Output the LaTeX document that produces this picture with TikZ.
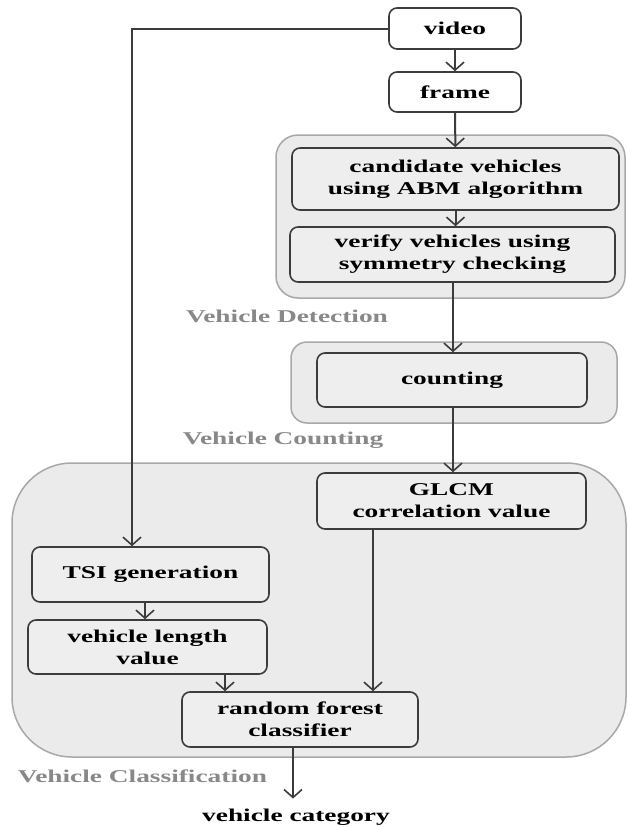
\documentclass[tikz,border=0pt]{standalone}
\usepackage{fontspec}
\newfontfamily\dfont{Liberation Serif}[FakeStretch=1.52]
\usetikzlibrary{arrows.meta}
\definecolor{boxline}{HTML}{3C3C3C}
\definecolor{boxfill}{HTML}{EEEEEE}
\definecolor{grpfill}{HTML}{EBEBEB}
\definecolor{grpline}{HTML}{A8A8A8}
\definecolor{lbl}{HTML}{888888}
\tikzset{
  stepbox/.style={draw=boxline, line width=1.6pt, rounded corners=8pt, fill=boxfill,
    inner sep=0pt, align=center, font=\dfont\bfseries\fontsize{18}{22}\selectfont},
  grp/.style={draw=grpline, line width=1.5pt, fill=grpfill, inner sep=0pt},
  grplabel/.style={text=lbl, inner sep=0pt, font=\dfont\bfseries\fontsize{18}{22}\selectfont},
  arr/.style={draw=boxline, line width=2pt, -{Straight Barb[length=8pt,width=18pt,line width=1.6pt]}}
}
\begin{document}
\begin{tikzpicture}[x=1pt,y=-1pt]
\useasboundingbox[fill=white] (0,0) rectangle (628,827);
% groups
\node[grp, rounded corners=22pt, minimum width=349pt, minimum height=163pt] (gdet) at (450.5,216.5) {};
\node[grp, rounded corners=16pt, minimum width=326pt, minimum height=81pt] (gcnt) at (454,382.5) {};
\node[grp, rounded corners=60pt, minimum width=614pt, minimum height=294pt] (gcls) at (319,610) {};
% group labels
\node[grplabel] (ldet) at (287,316) {Vehicle Detection};
\node[grplabel] (lcnt) at (283,440) {Vehicle Counting};
\node[grplabel] (lcls) at (142.5,776) {Vehicle Classification};
% boxes
\node[stepbox, fill=white, minimum width=132pt, minimum height=41pt] (video) at (455,28.5) {video};
\node[stepbox, fill=white, minimum width=132pt, minimum height=40pt] (frame) at (455,92) {frame};
\node[stepbox, minimum width=327pt, minimum height=62pt] (cand) at (455.5,179) {candidate vehicles\\using ABM algorithm};
\node[stepbox, minimum width=325pt, minimum height=55pt] (ver) at (452.5,254.5) {verify vehicles using\\symmetry checking};
\node[stepbox, minimum width=270pt, minimum height=54pt] (cnt) at (452,380) {counting};
\node[stepbox, minimum width=269pt, minimum height=56pt] (glcm) at (451.5,501) {GLCM\\correlation value};
\node[stepbox, minimum width=237pt, minimum height=55pt] (tsi) at (150.5,574.5) {TSI generation};
\node[stepbox, minimum width=239pt, minimum height=54pt] (vl) at (147.5,647) {vehicle length\\value};
\node[stepbox, minimum width=236pt, minimum height=55pt] (rf) at (300,719.5) {random forest\\classifier};
\node[inner sep=0pt, font=\dfont\bfseries\fontsize{18}{22}\selectfont] (cat) at (296,817) {vehicle category};
% connectors
\draw[arr] (video) -- (frame);
\draw[arr] (frame) -- (cand);
\draw[arr] (cand) -- (cand.south |- ver.north);
\coordinate (v1) at ([xshift=0.5pt]ver.south);
\draw[arr] (v1) -- (v1 |- cnt.north);
\coordinate (c1) at ([xshift=1pt]cnt.south);
\draw[arr] (c1) -- (c1 |- glcm.north);
\coordinate (t1) at ([xshift=-18.5pt]tsi.north);
\draw[arr] (video.west) -| (t1);
\coordinate (t2) at ([xshift=-5.5pt]tsi.south);
\draw[arr] (t2) -- (t2 |- vl.north);
\coordinate (l1) at ([xshift=77.5pt]vl.south);
\draw[arr] (l1) -- (l1 |- rf.north);
\coordinate (g1) at ([xshift=-78.5pt]glcm.south);
\draw[arr] (g1) -- (g1 |- rf.north);
\coordinate (r1) at ([xshift=-7pt]rf.south);
\draw[arr, shorten >=10pt] (r1) -- (r1 |- cat.north);
\end{tikzpicture}
\end{document}
